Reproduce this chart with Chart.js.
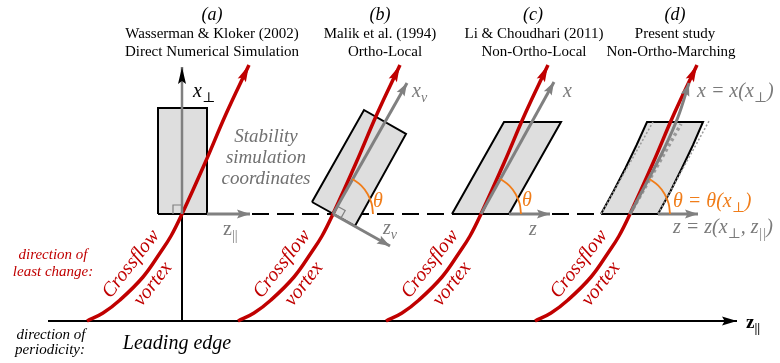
<!DOCTYPE html>
<html>
<head>
<meta charset="utf-8">
<script src="https://cdn.jsdelivr.net/npm/chart.js@4.4.1/dist/chart.umd.min.js"></script>
<style>
  html, body { margin: 0; padding: 0; background: #fff; }
  #wrap { width: 780px; height: 363px; position: relative; }
</style>
</head>
<body>
<div id="wrap"><canvas id="fig"></canvas></div>
<script>
/*
  Sketch of the four stability-coordinate setups (a)-(d), drawn on a hidden
  linear x/y pair so every line goes through Chart.js scales.
  Units are figure pixels (x right, y down).
*/
const RED = '#c00000', GRAY = '#808080', ORANGE = '#f07d1a', BOX = '#dedede';

const baseY = 321;                        // leading-edge line
const planeY = 214;                       // simulation plane (dashed)
const panelX = [182, 333, 481, 630];      // vortex crossing of the plane, panels a-d

// crossflow vortex path, relative to the crossing point
const vortexDX = [-95, -79, -62, -39, -22, -11, 0, 23, 44, 67];
const vortexDY = [107, 99, 86, 63, 39, 22, 0, -51, -100, -149];

// theta arc, relative to crossing point (panels b-d)
const arcDX = [40, 38.6, 34.6, 28.3, 19.4];
const arcDY = [0, -10.4, -20, -28.3, -35];

// boxes
const boxAX = [158, 207, 207, 158, 158], boxAY = [214, 214, 108, 108, 214];
const boxBX = [312, 355, 406, 364, 312], boxBY = [202, 226, 134, 110, 202];
const boxCX = [452, 509, 561, 504, 452], boxCY = [214, 214, 122, 122, 214];
const boxDX = [601, 613.6, 625.5, 636.6, 647, 703, 693, 682, 670.6, 658, 601];
const boxDY = [214, 191, 168, 145, 122, 122, 145, 168, 191, 214, 214];
// straight (dotted) outline of box d
const dotLX = [601, 653], dotLY = [214, 122];
const dotRX = [658, 709], dotRY = [214, 121];

// axes
const leadX = [48, 737], leadY = [321, 321];
const vertX = [182, 182], vertY = [321, 214];
const dashX = [252, 601], dashY = [214, 214];
const xPerpX = [182, 182], xPerpY = [214, 67];
const zParX = [207, 250], zParY = [214, 214];
const xvX = [333, 407], xvY = [214, 83];
const zvX = [333, 390], zvY = [214, 246];
const xcX = [481, 554], xcY = [214, 82];
const zcX = [509, 550], zcY = [214, 214];
const zdX = [658, 698], zdY = [214, 214];
const xdX = [630, 647, 664, 678, 689], xdY = [214, 182, 149, 117, 83];
const xdTanX = [630, 681], xdTanY = [214, 124];
const rightAX = [173, 173, 182], rightAY = [214, 205, 205];
const rightBX = [340.8, 345.2, 337.4], rightBY = [218.4, 210.6, 206.2];

const zip = (xs, ys, dx = 0, dy = 0) => xs.map((x, i) => ({ x: x + dx, y: ys[i] + dy }));

function line(data, color, width, extra) {
  return Object.assign({ data, borderColor: color, borderWidth: width, pointRadius: 0,
    pointHoverRadius: 0, fill: false, tension: 0, borderCapStyle: 'butt' }, extra || {});
}
function box(xs, ys) {
  return line(zip(xs, ys), '#000', 2, { fill: 'shape', backgroundColor: BOX, borderJoinStyle: 'miter' });
}

const layers = [];
layers.push(line(zip(dashX, dashY), '#000', 2, { borderDash: [17, 8] }));
layers.push(line(zip(leadX, leadY), '#000', 2, { head: [15, 9, '#000'] }));
layers.push(line(zip(vertX, vertY), '#000', 2));
layers.push(box(boxAX, boxAY));
layers.push(box(boxBX, boxBY));
layers.push(box(boxCX, boxCY));
layers.push(box(boxDX, boxDY));
layers.push(line(zip(dotLX, dotLY), '#999', 1.5, { borderDash: [2, 2] }));
layers.push(line(zip(dotRX, dotRY), '#999', 1.5, { borderDash: [2, 2] }));
panelX.forEach(px => {
  layers.push(line(zip(vortexDX, vortexDY, px, planeY), RED, 3.5, { tension: 0.4, head: [17, 9, RED] }));
});
layers.push(line(zip(xPerpX, xPerpY), GRAY, 2.5, { head: [17, 8, '#000'] }));
layers.push(line(zip(zParX, zParY), GRAY, 3, { head: [13, 9, GRAY] }));
layers.push(line(zip(xvX, xvY), GRAY, 3, { head: [13, 9, GRAY] }));
layers.push(line(zip(zvX, zvY), GRAY, 3, { head: [13, 9, GRAY] }));
layers.push(line(zip(xcX, xcY), GRAY, 3, { head: [13, 9, GRAY] }));
layers.push(line(zip(zcX, zcY), GRAY, 3, { head: [13, 9, GRAY] }));
layers.push(line(zip(zdX, zdY), GRAY, 3, { head: [13, 9, GRAY] }));
layers.push(line(zip(xdTanX, xdTanY), '#9a9a9a', 3.5, { borderDash: [3, 3] }));
layers.push(line(zip(xdX, xdY), GRAY, 3, { tension: 0.4, head: [13, 9, GRAY] }));
layers.push(line(zip(rightAX, rightAY), GRAY, 1.2));
layers.push(line(zip(rightBX, rightBY), GRAY, 1.2));
panelX.slice(1).forEach(px => {
  layers.push(line(zip(arcDX, arcDY, px, planeY), ORANGE, 1.8, { tension: 0.4 }));
});
// first pushed = drawn first (behind)
layers.forEach((d, i) => { d.order = layers.length - i; });

// text labels: [parts, x, y, style]
const SERIF = '"Liberation Serif", "DejaVu Serif", serif';
const T = (parts, x, y, o) => Object.assign({ parts: typeof parts === 'string' ? [[parts]] : parts, x, y,
  size: 15, style: '', family: SERIF, color: '#000', align: 'center', rot: 0 }, o || {});
const HEAD = {}, LET = { style: 'italic', size: 18 };
const SIM = { style: 'italic', size: 19, color: '#707070' };
const VX = { style: 'italic', size: 20, color: RED };
const MATH = { style: 'italic', size: 20, align: 'left', color: '#7a7a7a' };
const MATHO = Object.assign({}, MATH, { color: ORANGE });

const texts = [
  T('(a)', 212, 15, LET), T('Wasserman & Kloker (2002)', 212, 34, HEAD), T('Direct Numerical Simulation', 212, 52, HEAD),
  T('(b)', 380, 15, LET), T('Malik et al. (1994)', 380, 34, HEAD), T('Ortho-Local', 385, 52, HEAD),
  T('(c)', 533, 15, LET), T('Li & Choudhari (2011)', 534, 34, HEAD), T('Non-Ortho-Local', 534, 52, HEAD),
  T('(d)', 675, 15, LET), T('Present study', 675, 34, HEAD), T('Non-Ortho-Marching', 671, 52, HEAD),
  T('Stability', 266, 137, SIM), T('simulation', 266, 158, SIM), T('coordinates', 266, 179, SIM),
  T('direction of', 53, 255, { style: 'italic', color: RED }), T('least change:', 53, 272, { style: 'italic', color: RED }),
  T('direction of', 51, 335, { style: 'italic' }), T('periodicity:', 50, 350, { style: 'italic' }),
  T('Leading edge', 177, 344, { style: 'italic', size: 20 }),
  T([['x'], ['\u22a5', 1]], 193, 92, Object.assign({}, MATH, { color: '#000' })),
  T([['z'], ['||', 1]], 223, 230, Object.assign({}, MATH, { style: '' })),
  T([['x'], ['v', 1]], 412, 92, MATH),
  T([['z'], ['v', 1]], 383, 229, MATH),
  T('\u03b8', 373, 202, MATHO),
  T('x', 563, 92, MATH),
  T('z', 529, 230, MATH),
  T('\u03b8', 522, 201, MATHO),
  T([['x = x(x'], ['\u22a5', 1], [')']], 697, 92, MATH),
  T([['\u03b8 = \u03b8(x'], ['\u22a5', 1], [')']], 673, 202, MATHO),
  T([['z = z(x'], ['\u22a5', 1], [', z'], ['||', 1], [')']], 673, 228, MATH),
  T([['z'], ['||', 1]], 746, 323, { style: 'bold', size: 19, align: 'left' })
];
panelX.forEach(px => {
  texts.push(T('Crossflow', px - 51, 264, Object.assign({ rot: -52 }, VX)));
  texts.push(T('vortex', px - 29, 284, Object.assign({ rot: -52 }, VX)));
});

const arrowHeads = {
  id: 'arrowHeads',
  afterDatasetDraw(chart, args) {
    const ds = chart.data.datasets[args.index];
    if (!ds.head) return;
    const pts = args.meta.data, n = pts.length;
    const a = pts[n - 2], b = pts[n - 1];
    const [len, wid, col] = ds.head;
    const ctx = chart.ctx;
    ctx.save();
    ctx.translate(b.x, b.y);
    ctx.rotate(Math.atan2(b.y - a.y, b.x - a.x));
    ctx.beginPath();
    ctx.moveTo(0, 0);
    ctx.lineTo(-len, wid / 2);
    ctx.lineTo(-len * 0.82, 0);
    ctx.lineTo(-len, -wid / 2);
    ctx.closePath();
    ctx.fillStyle = col;
    ctx.fill();
    ctx.restore();
  }
};

const labelText = {
  id: 'labelText',
  afterDraw(chart) {
    const ctx = chart.ctx, sx = chart.scales.x, sy = chart.scales.y;
    texts.forEach(t => {
      const main = `${t.style} ${t.size}px ${t.family}`;
      const sub = `${t.style} ${Math.round(t.size * 0.68)}px ${t.family}`;
      let w = 0;
      const segs = t.parts.map(p => {
        ctx.font = p[1] ? sub : main;
        const m = ctx.measureText(p[0]).width;
        w += m;
        return { s: p[0], sub: !!p[1], m };
      });
      let x0 = t.align === 'center' ? -w / 2 : t.align === 'right' ? -w : 0;
      ctx.save();
      ctx.translate(sx.getPixelForValue(t.x), sy.getPixelForValue(t.y));
      if (t.rot) ctx.rotate(t.rot * Math.PI / 180);
      ctx.fillStyle = t.color;
      ctx.textBaseline = 'middle';
      ctx.textAlign = 'left';
      segs.forEach(s => {
        ctx.font = s.sub ? sub : main;
        ctx.fillText(s.s, x0, s.sub ? t.size * 0.3 : 0);
        x0 += s.m;
      });
      ctx.restore();
    });
  }
};

new Chart(document.getElementById('fig').getContext('2d'), {
  type: 'line',
  data: { datasets: layers },
  plugins: [arrowHeads, labelText],
  options: {
    responsive: true,
    maintainAspectRatio: false,
    animation: false,
    layout: { padding: 0 },
    plugins: { legend: { display: false }, tooltip: { enabled: false } },
    events: [],
    scales: {
      x: { type: 'linear', display: false, min: 0, max: 780 },
      y: { type: 'linear', display: false, min: 0, max: 363, reverse: true }
    }
  }
});
</script>
</body>
</html>
